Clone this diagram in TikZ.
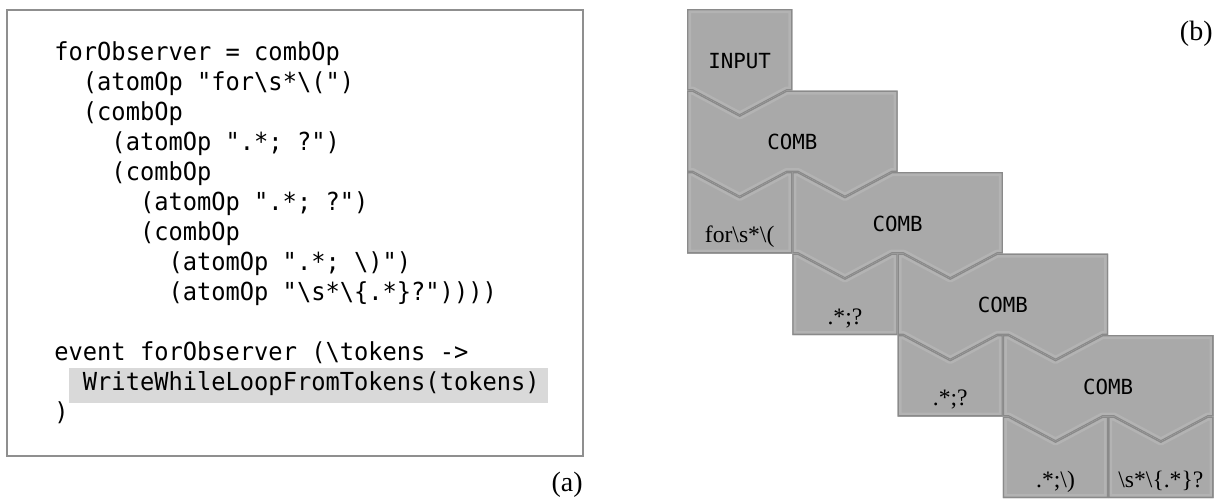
\documentclass[tikz,border=0pt]{standalone}
\usepackage{fontspec}
\setmainfont{Liberation Serif}
\setmonofont{DejaVu Sans Mono}
\newfontfamily\codefont{DejaVu Sans Mono}[FakeStretch=0.956]
\definecolor{piecegray}{HTML}{A9A9A9}
\definecolor{pieceedge}{HTML}{8A8A8A}
\definecolor{piecelight}{HTML}{B3B3B3}
\definecolor{boxedge}{HTML}{8F8F8F}
\definecolor{hlgray}{HTML}{D9D9D9}
\newcommand\bsl{\textbackslash}
\tikzset{
  codeline/.style={anchor=base west, inner sep=0pt, font=\codefont\fontsize{12.4}{14}\selectfont},
  blocklabel/.style={inner sep=0pt, font=\ttfamily\fontsize{10.4}{12}\selectfont},
  leaflabel/.style={anchor=base, inner sep=0pt, font=\fontsize{11.8}{14}\selectfont},
  panellabel/.style={anchor=base east, inner sep=0pt, font=\fontsize{14}{16}\selectfont},
}
\newcommand\drawpiece[1]{%
  \fill[piecegray] #1;
  \begin{scope}
    \clip #1;
    \draw[piecelight, line width=4pt, line join=round] #1;
    \draw[pieceedge, line width=1.3pt] #1;
  \end{scope}
}
\newcommand\setcell[2]{%
  \pgfmathsetmacro\qLa{687+#1*105.3}%
  \pgfmathsetmacro\qLb{\qLa+105.3}%
  \pgfmathsetmacro\qLc{\qLb+105.3}%
  \pgfmathsetmacro\qCa{\qLa+52.65}%
  \pgfmathsetmacro\qCb{\qLb+52.65}%
  \pgfmathsetmacro\qTa{9+#2*81.5}%
  \pgfmathsetmacro\qTb{\qTa+81.5}%
  \pgfmathsetmacro\qUa{\qTa+25}%
  \pgfmathsetmacro\qUb{\qTb+25}%
  \pgfmathsetmacro\qAal{\qCa-47}\pgfmathsetmacro\qAar{\qCa+47}%
  \pgfmathsetmacro\qAbl{\qCb-47}\pgfmathsetmacro\qAbr{\qCb+47}%
}
\newcommand\inputpiece[2]{\setcell{#1}{#2}\drawpiece{(\qLa,\qTa) -- (\qLb,\qTa) -- (\qLb,\qTb) -- (\qAar,\qTb) -- (\qCa,\qUb) -- (\qAal,\qTb) -- (\qLa,\qTb) -- cycle}}
\newcommand\combpiece[2]{\setcell{#1}{#2}\drawpiece{(\qLa,\qTa) -- (\qAal,\qTa) -- (\qCa,\qUa) -- (\qAar,\qTa) -- (\qLc,\qTa) -- (\qLc,\qTb) -- (\qAbr,\qTb) -- (\qCb,\qUb) -- (\qAbl,\qTb) -- (\qAar,\qTb) -- (\qCa,\qUb) -- (\qAal,\qTb) -- (\qLa,\qTb) -- cycle}}
\newcommand\leafpiece[2]{\setcell{#1}{#2}\drawpiece{(\qLa,\qTa) -- (\qAal,\qTa) -- (\qCa,\qUa) -- (\qAar,\qTa) -- (\qLb,\qTa) -- (\qLb,\qTb) -- (\qLa,\qTb) -- cycle}}
\begin{document}
\begin{tikzpicture}[x=0.5pt,y=-0.5pt]
\useasboundingbox (0,0) rectangle (1225,499);
% ---- panel (a): code
\draw[boxedge, line width=0.8pt] (7,10) rectangle (583,456);
\fill[hlgray] (69,368) rectangle (548,403);
\node[codeline] (l1) at (54,60) {forObserver = combOp};
\node[codeline] (l2) at (82.54,90) {(atomOp "for\bsl s*\bsl(")};
\node[codeline] (l3) at (82.54,120) {(combOp};
\node[codeline] (l4) at (111.08,150) {(atomOp ".*; ?")};
\node[codeline] (l5) at (111.08,180) {(combOp};
\node[codeline] (l6) at (139.62,210) {(atomOp ".*; ?")};
\node[codeline] (l7) at (139.62,240) {(combOp};
\node[codeline] (l8) at (168.16,270) {(atomOp ".*; \bsl)")};
\node[codeline] (l9) at (168.16,300) {(atomOp "\bsl s*\bsl\{.*\}?"))))};
\node[codeline] (l10) at (54,360) {event forObserver (\bsl tokens ->};
\node[codeline] (l11) at (82.54,390) {WriteWhileLoopFromTokens(tokens)};
\node[codeline] (l12) at (54,420) {)};
\node[panellabel] (pa) at (583,491) {(a)};
% ---- panel (b): blocks
\inputpiece{0}{0}
\combpiece{0}{1}
\leafpiece{0}{2}
\combpiece{1}{2}
\leafpiece{1}{3}
\combpiece{2}{3}
\leafpiece{2}{4}
\combpiece{3}{4}
\leafpiece{3}{5}
\leafpiece{4}{5}
\node[blocklabel] (input) at (739.65,61) {INPUT};
\node[blocklabel] (comb1) at (792.3,142.25) {COMB};
\node[blocklabel] (comb2) at (897.6,223.75) {COMB};
\node[blocklabel] (comb3) at (1002.9,305.25) {COMB};
\node[blocklabel] (comb4) at (1108.2,386.75) {COMB};
\node[leaflabel] (leaf1) at (739.65,242.5) {for\bsl s*\bsl(};
\node[leaflabel] (leaf2) at (844.95,324) {.*;?};
\node[leaflabel] (leaf3) at (950.25,405.5) {.*;?};
\node[leaflabel] (leaf4) at (1055.55,487) {.*;\bsl)};
\node[leaflabel] (leaf5) at (1160.85,487) {\bsl s*\bsl\{.*\}?};
\node[panellabel] (pb) at (1213,40) {(b)};
\end{tikzpicture}
\end{document}
